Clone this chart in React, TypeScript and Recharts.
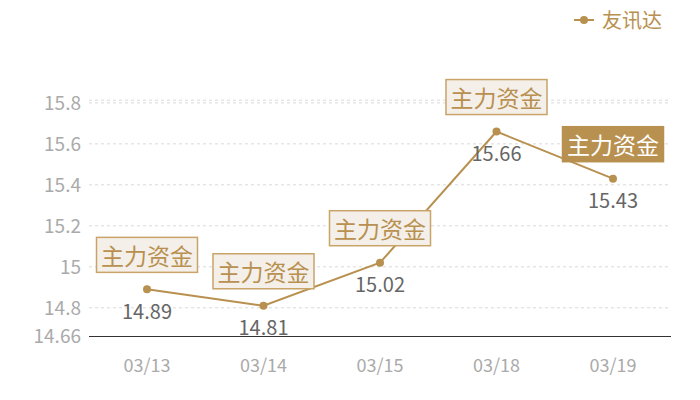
import { CartesianGrid, LabelList, Legend, Line, LineChart, XAxis, YAxis } from 'recharts';

const dates = ['03/13', '03/14', '03/15', '03/18', '03/19'];
const prices = [14.89, 14.81, 15.02, 15.66, 15.43];
const markText = '主力资金';
const yTicks = [14.66, 14.8, 15, 15.2, 15.4, 15.6, 15.8, 15.813];

const data = dates.map((d, i) => ({ date: d, price: prices[i] }));

const GOLD = '#b8904f';
const FONT = '"Noto Sans CJK SC", "Noto Sans", sans-serif';

function ValueLabel(props: any) {
  const { x, y, value } = props;
  return (
    <text x={x} y={y + 21} textAnchor="middle" dominantBaseline="central" fill="#666" fontSize={20} fontFamily={FONT}>
      {value}
    </text>
  );
}

function MarkBox(props: any) {
  const { x, y, index } = props;
  const last = index === dates.length - 1;
  const w = 101;
  const h = 35;
  return (
    <g>
      <rect
        x={x - w / 2}
        y={y - 17 - h}
        width={w}
        height={h}
        fill={last ? GOLD : '#f4efe9'}
        stroke={last ? GOLD : '#c9a468'}
        strokeWidth={1.5}
      />
      <text
        x={x}
        y={y - 17 - h / 2}
        textAnchor="middle"
        dominantBaseline="central"
        fill={last ? '#fff' : GOLD}
        fontSize={23}
        fontFamily={FONT}
      >
        {markText}
      </text>
    </g>
  );
}

function LegendContent() {
  return (
    <div style={{ display: 'flex', alignItems: 'center', fontFamily: FONT }}>
      <svg width={20} height={10}>
        <line x1={0} y1={5} x2={20} y2={5} stroke={GOLD} strokeWidth={2} />
        <circle cx={10} cy={5} r={4} fill={GOLD} />
      </svg>
      <span style={{ color: GOLD, fontSize: 20, marginLeft: 8, lineHeight: '24px' }}>友讯达</span>
    </div>
  );
}

export default function App() {
  return (
    <div style={{ position: 'fixed', top: 0, left: 0, width: 700, height: 400, background: '#fff' }}>
      <LineChart width={700} height={400} data={data} margin={{ top: 100.2, right: 29, bottom: 0, left: 0 }}>
        <CartesianGrid vertical={false} stroke="#d9d9d9" strokeDasharray="3 3" />
        <XAxis
          dataKey="date"
          height={63.5}
          padding={{ left: 58, right: 58 }}
          tickLine={false}
          tickSize={0}
          tickMargin={23}
          axisLine={{ stroke: '#333' }}
          tick={{ fill: '#aaa', fontSize: 18, fontFamily: FONT }}
        />
        <YAxis
          width={89}
          domain={[14.66, 15.813]}
          ticks={yTicks}
          interval={0}
          axisLine={false}
          tickLine={false}
          tickSize={0}
          tickMargin={8}
          tickFormatter={(v: number) => (v === 15.813 ? '' : String(v))}
          tick={{ fill: '#aaa', fontSize: 19, fontFamily: FONT }}
        />
        <Legend
          layout="horizontal"
          verticalAlign="middle"
          content={<LegendContent />}
          wrapperStyle={{ top: 8, right: 38, left: 'auto', width: 'auto' }}
        />
        <Line
          type="linear"
          dataKey="price"
          stroke={GOLD}
          strokeWidth={2}
          dot={{ r: 4, fill: GOLD, stroke: GOLD, strokeWidth: 0 }}
          activeDot={false}
          isAnimationActive={false}
        >
          <LabelList dataKey="price" content={<ValueLabel />} />
          <LabelList dataKey="price" content={<MarkBox />} />
        </Line>
      </LineChart>
    </div>
  );
}
